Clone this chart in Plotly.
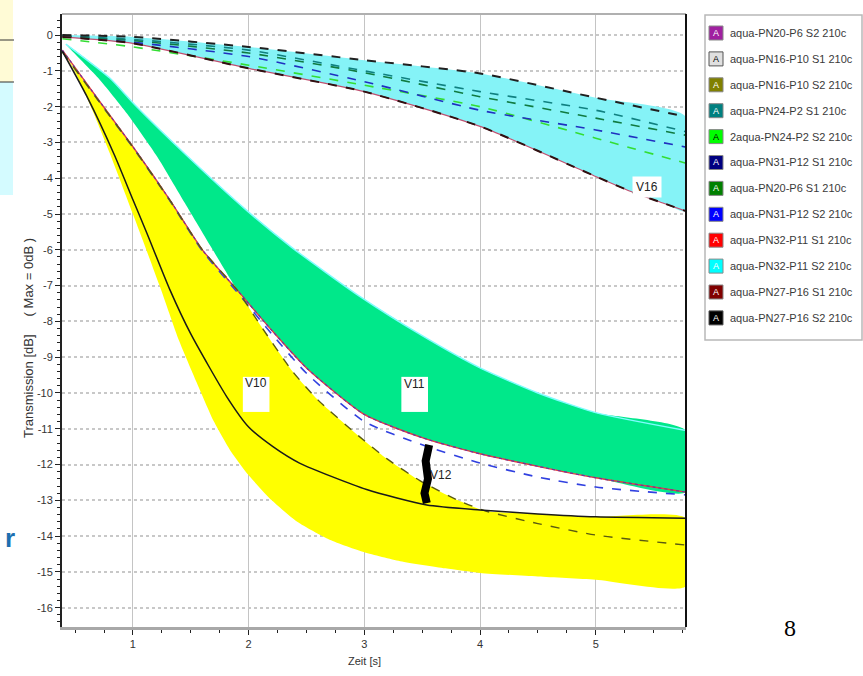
import plotly.graph_objects as go

# ---------------- data ----------------
legend_names = [
    "aqua-PN20-P6 S2 210c", "aqua-PN16-P10 S1 210c", "aqua-PN16-P10 S2 210c",
    "aqua-PN24-P2 S1 210c", "2aqua-PN24-P2 S2 210c", "aqua-PN31-P12 S1 210c",
    "aqua-PN20-P6 S1 210c", "aqua-PN31-P12 S2 210c", "aqua-PN32-P11 S1 210c",
    "aqua-PN32-P11 S2 210c", "aqua-PN27-P16 S1 210c", "aqua-PN27-P16 S2 210c",
]
legend_colors = ["#a020a0", "#e0e0e0", "#808000", "#008080", "#00ff00", "#000080",
                 "#008000", "#0000ff", "#ff0000", "#00ffff", "#800000", "#000000"]
legend_letter_colors = ["white", "black", "white", "white", "black", "white",
                        "white", "white", "white", "white", "white", "white"]

y_tick_vals = [0, -1, -2, -3, -4, -5, -6, -7, -8, -9, -10, -11, -12, -13, -14, -15, -16]
y_tick_text = ["0", "-1", "-2", "-3", "-4", "-5", "-6", "-7", "-8", "-9", "-10",
               "-11", "-12", "-13", "-14", "-15", "-16"]
x_tick_vals = [1, 2, 3, 4, 5]

# upper group (V16)
x_top = [0.39, 1.0, 2.0, 3.0, 4.0, 5.0, 5.78]
y_pn27_s2 = [0.0, -0.05, -0.33, -0.70, -1.07, -1.75, -2.28]
y_pn24_s1 = [-0.02, -0.12, -0.42, -1.00, -1.58, -2.10, -2.70]
y_pn20_s1 = [-0.03, -0.15, -0.50, -1.05, -1.72, -2.32, -2.80]
y_pn31_s1 = [-0.04, -0.20, -0.60, -1.30, -2.10, -2.65, -3.13]
y_pn24_s2 = [-0.10, -0.33, -0.84, -1.40, -2.00, -2.88, -3.58]
x_v16_low = [0.39, 1.0, 2.0, 3.0, 4.0, 5.0, 5.32, 5.58, 5.78]
y_pn27_s1 = [-0.05, -0.23, -0.93, -1.58, -2.55, -3.95, -4.39, -4.69, -4.92]

# lower group
x_red = [0.39, 0.7, 1.02, 1.32, 1.6, 1.9, 2.2, 2.5, 3.0, 3.5, 4.0, 4.5, 5.0, 5.78]
y_pn32_s1 = [-0.42, -1.8, -3.21, -4.61, -6.0, -7.12, -8.25, -9.3, -10.6, -11.25,
             -11.7, -12.05, -12.37, -12.77]
y_pn31_s2 = [-0.45, -1.82, -3.23, -4.63, -6.03, -7.18, -8.35, -9.45, -10.8, -11.45,
             -11.96, -12.35, -12.63, -12.85]
x_olive = [0.39, 0.7, 1.02, 1.32, 1.6, 1.9, 2.1, 2.38, 2.6, 2.95, 3.2, 3.48, 3.81,
           4.05, 4.5, 5.0, 5.78]
y_pn16_s2 = [-0.47, -1.82, -3.22, -4.62, -6.0, -7.12, -8.1, -9.4, -10.2, -11.2,
             -11.85, -12.45, -13.0, -13.3, -13.65, -13.97, -14.25]
x_black = [0.39, 0.6, 0.84, 1.0, 1.12, 1.32, 1.5, 1.81, 2.0, 2.21, 2.44, 3.02, 3.54,
           4.0, 4.5, 5.0, 5.78]
y_pn16_s1 = [-0.45, -1.7, -3.35, -4.6, -5.53, -7.12, -8.35, -10.1, -10.95, -11.5,
             -11.96, -12.7, -13.13, -13.27, -13.38, -13.46, -13.5]

# hand-drawn bands
x_v10_low = [0.39, 0.5, 0.65, 0.8, 1.0, 1.23, 1.4, 1.55, 1.7, 1.85, 2.0, 2.2, 2.42,
             2.7, 3.0, 3.31, 3.7, 4.0, 4.5, 5.0, 5.78]
y_v10_low = [-0.45, -1.03, -2.1, -3.3, -5.0, -7.0, -8.55, -9.7, -10.8, -11.65,
             -12.3, -13.0, -13.6, -14.1, -14.45, -14.7, -14.9, -15.03, -15.13,
             -15.22, -15.4]
x_v11_up = [0.42, 0.8, 1.02, 1.46, 1.98, 2.38, 2.96, 3.5, 4.0, 4.5, 5.0, 5.78]
y_v11_up = [-0.25, -1.2, -1.96, -3.35, -4.89, -5.95, -7.3, -8.4, -9.3, -10.0,
            -10.55, -11.05]
x_v11_low = [0.42, 0.7, 0.95, 1.21, 1.45, 1.69, 1.92]
y_v11_low = [-0.25, -1.2, -2.2, -3.4, -4.7, -6.0, -7.2]
x_v12 = [3.56, 3.53, 3.55, 3.52, 3.54]
y_v12 = [-11.45, -11.9, -12.4, -12.8, -13.08]

# ---------------- figure ----------------
L, R, T, B = 62, 686, 14, 627
W, H = R - L, B - T


def px(x):
    return (x - L) / W


def py(y):
    return (B - y) / H


SPL = dict(shape="spline", smoothing=0.6)

fig = go.Figure()

# cyan band V16
fig.add_trace(go.Scatter(x=x_top + x_v16_low[::-1], y=y_pn27_s2 + y_pn27_s1[::-1],
                         fill="toself", fillcolor="#85f3f7", line=dict(width=0, **SPL),
                         mode="lines", hoverinfo="skip", showlegend=False))
# green band V11
gx = x_v11_up + [x for x in x_red if x > 1.95][::-1] + x_v11_low[::-1]
gy = y_v11_up + [y for x, y in zip(x_red, y_pn32_s1) if x > 1.95][::-1] + y_v11_low[::-1]
fig.add_trace(go.Scatter(x=gx, y=gy, fill="toself", fillcolor="#00e88a",
                         line=dict(width=0, **SPL), mode="lines", hoverinfo="skip",
                         showlegend=False))
# yellow band V10
ux = [x for x in x_olive if x <= 4.05] + [x for x in x_black if x > 4.05]
uy = [y for x, y in zip(x_olive, y_pn16_s2) if x <= 4.05] + \
     [y for x, y in zip(x_black, y_pn16_s1) if x > 4.05]
fig.add_trace(go.Scatter(x=x_v10_low + ux[::-1], y=y_v10_low + uy[::-1],
                         fill="toself", fillcolor="#ffff00", line=dict(width=0, **SPL),
                         mode="lines", hoverinfo="skip", showlegend=False))


def line(x, y, color, name, dash="solid", width=1.6):
    fig.add_trace(go.Scatter(x=x, y=y, mode="lines", name=name, showlegend=False,
                             line=dict(color=color, width=width, dash=dash, **SPL)))


line(x_v11_up, y_v11_up, "#7ffcff", legend_names[9], width=1.5)
line(x_top, y_pn24_s2, "#33dd33", legend_names[4], "dash")
line(x_top, y_pn31_s1, "#2030c0", legend_names[5], "dash")
line(x_top, y_pn20_s1, "#107a40", legend_names[6], "dash")
line(x_top, y_pn24_s1, "#108080", legend_names[3], "dash")
line(x_top, y_pn27_s2, "#202020", legend_names[11], "dash", 2)
line(x_v16_low, y_pn27_s1, "#c05070", legend_names[0], "solid", 1.2)
line(x_v16_low, y_pn27_s1, "#301010", legend_names[10], "dash", 2)

line(x_red, y_pn31_s2, "#3040e0", legend_names[7], "dash", 1.6)
line(x_red, y_pn32_s1, "#e04040", legend_names[8], "solid", 1.4)
line(x_red, y_pn32_s1, "#7030a0", legend_names[0], "dot", 1.2)
line(x_olive, y_pn16_s2, "#5a5a10", legend_names[2], "dash", 1.4)
line(x_black, y_pn16_s1, "#1a1a1a", legend_names[1], "solid", 1.5)
fig.add_trace(go.Scatter(x=x_v12, y=y_v12, mode="lines", showlegend=False,
                         line=dict(color="black", width=8), hoverinfo="skip"))

shapes = []
annotations = []

# white label boxes
for x0, x1 in [(1.95, 2.18), (3.32, 3.55)]:
    shapes.append(dict(type="rect", xref="x", yref="y", x0=x0, x1=x1, y0=-10.53,
                       y1=-9.55, fillcolor="white", line=dict(width=0)))
for text, x, y, bg in [("V10", 2.065, -9.72, None), ("V11", 3.435, -9.75, None),
                       ("V12", 3.66, -12.3, None), ("V16", 5.44, -4.24, "white")]:
    a = dict(text=text, x=x, y=y, xref="x", yref="y", showarrow=False,
             font=dict(family="Liberation Sans, Arial", size=12, color="#222"))
    if bg:
        a.update(bgcolor=bg, borderpad=3)
    annotations.append(a)

# plot frame
shapes.append(dict(type="line", xref="paper", yref="paper", x0=0, x1=1, y0=1, y1=1,
                   line=dict(color="#b0b0b0", width=2)))
shapes.append(dict(type="line", xref="paper", yref="paper", x0=1, x1=1, y0=0, y1=1,
                   line=dict(color="#111", width=2)))

# legend box
shapes.append(dict(type="rect", xref="paper", yref="paper", x0=px(705), x1=px(862),
                   y0=py(340), y1=py(15), fillcolor="white",
                   line=dict(color="#b8b8b8", width=1.5)))
for i, (name, col, lc) in enumerate(zip(legend_names, legend_colors, legend_letter_colors)):
    yc = 33 + i * 25.9
    shapes.append(dict(type="rect", xref="paper", yref="paper", x0=px(709), x1=px(723),
                       y0=py(yc + 7), y1=py(yc - 7), fillcolor=col,
                       line=dict(color="#555" if i in (1, 11) else "#888", width=1)))
    annotations.append(dict(text="A", x=px(716), y=py(yc), xref="paper", yref="paper",
                            showarrow=False, xanchor="center", yanchor="middle",
                            font=dict(family="Liberation Sans, Arial", size=9, color=lc)))
    annotations.append(dict(text=name, x=px(728), y=py(yc), xref="paper", yref="paper",
                            showarrow=False, xanchor="left", yanchor="middle",
                            font=dict(family="Liberation Sans, Arial", size=11, color="#3a3a3a")))

# slide artefacts at the left edge
shapes.append(dict(type="rect", xref="paper", yref="paper", x0=px(0), x1=px(13),
                   y0=py(82), y1=py(0), fillcolor="#fffbd6", line=dict(width=0)))
shapes.append(dict(type="rect", xref="paper", yref="paper", x0=px(0), x1=px(13),
                   y0=py(195), y1=py(82), fillcolor="#d4fbff", line=dict(width=0)))
for yl in (40, 82):
    shapes.append(dict(type="line", xref="paper", yref="paper", x0=px(0), x1=px(14),
                       y0=py(yl), y1=py(yl), line=dict(color="#333", width=1)))
annotations.append(dict(text="<b>r</b>", x=px(10), y=py(538), xref="paper", yref="paper",
                        showarrow=False, xanchor="center", yanchor="middle",
                        font=dict(family="Liberation Sans, Arial", size=26, color="#1d6fb0")))
annotations.append(dict(text="8", x=px(790), y=py(628), xref="paper", yref="paper",
                        showarrow=False, xanchor="center", yanchor="middle",
                        font=dict(family="Liberation Serif, Times New Roman", size=24, color="black")))

# axis titles
annotations.append(dict(text="Transmission [dB]\u00a0\u00a0\u00a0\u00a0\u00a0( Max = 0dB )",
                        x=px(28), y=py(338), xref="paper", yref="paper", textangle=-90,
                        showarrow=False, xanchor="center", yanchor="middle",
                        font=dict(family="Liberation Sans, Arial", size=13, color="#333")))
annotations.append(dict(text="Zeit [s]", x=px(364), y=py(661), xref="paper", yref="paper",
                        showarrow=False, xanchor="center", yanchor="middle",
                        font=dict(family="Liberation Sans, Arial", size=11, color="#333")))

fig.update_layout(
    width=863, height=676,
    margin=dict(l=L, r=863 - R, t=T, b=676 - B),
    paper_bgcolor="white", plot_bgcolor="white",
    shapes=shapes, annotations=annotations, showlegend=False,
    font=dict(family="Liberation Sans, Arial", size=11, color="#333"),
)
fig.update_xaxes(range=[0.387, 5.78], tickvals=x_tick_vals, ticks="outside", ticklen=5,
                 tickcolor="#222", showline=True, linecolor="#a8a8a8", linewidth=3,
                 showgrid=True, gridcolor="#c4c4c4", gridwidth=1, zeroline=False,
                 minor=dict(ticks="outside", dtick=0.25, tick0=0, ticklen=3,
                            tickcolor="#222", showgrid=False),
                 tickfont=dict(size=11, color="#333"))
fig.update_yaxes(range=[-16.54, 0.59], tickvals=y_tick_vals, ticktext=y_tick_text,
                 ticks="outside", ticklen=5, tickcolor="#222", showline=True,
                 linecolor="#222", linewidth=2, showgrid=True, gridcolor="#c8c8c8",
                 gridwidth=2, griddash="dot", zeroline=False,
                 minor=dict(ticks="outside", dtick=0.2, tick0=0, ticklen=3,
                            tickcolor="#222", showgrid=False),
                 tickfont=dict(size=11, color="#333"))

fig.write_html("out.html", config={"displayModeBar": False},
               post_script="document.body.style.margin='0';")
